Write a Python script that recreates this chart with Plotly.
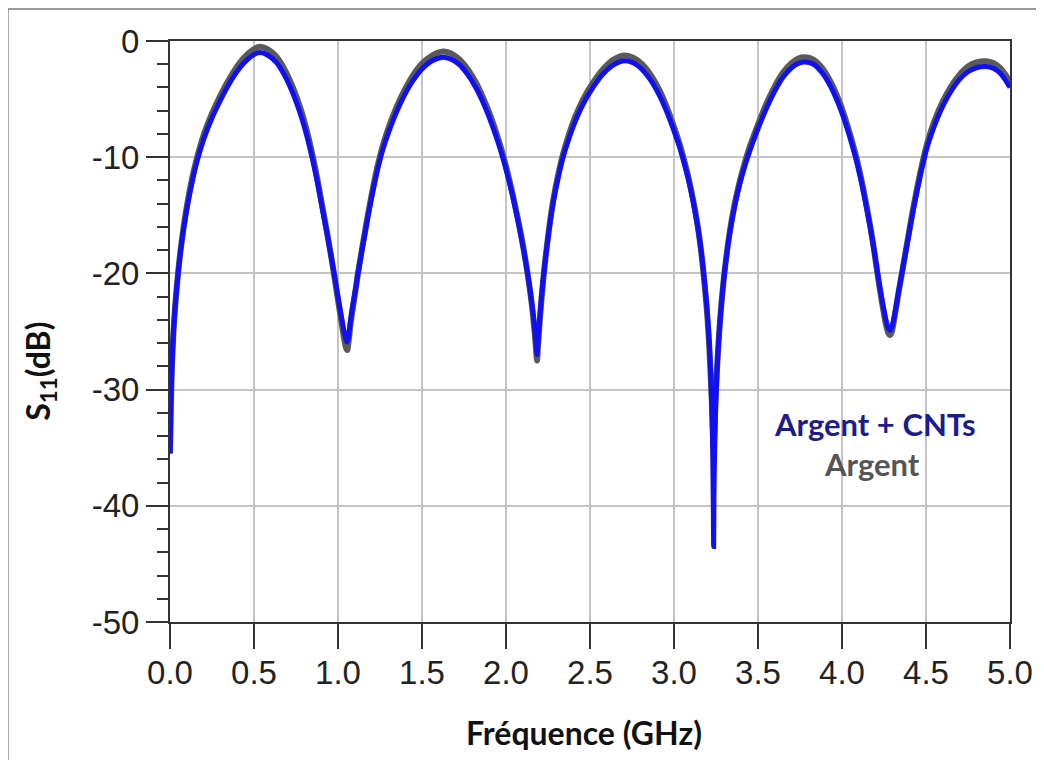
import plotly.graph_objects as go

# Frequency samples (GHz)
freq_ghz = [
    0, 0.005, 0.012, 0.02, 0.03, 0.048, 0.07, 0.095, 0.125, 0.16, 0.20, 0.245, 0.29, 0.34, 0.39, 0.44, 0.49, 0.536,
    0.58, 0.63, 0.68, 0.73, 0.78, 0.815, 0.845, 0.875, 0.905, 0.935, 0.96, 0.98, 1.0, 1.02, 1.035, 1.048, 1.055,
    1.062, 1.075, 1.09, 1.105, 1.12, 1.15, 1.18, 1.21, 1.24, 1.27, 1.30, 1.34, 1.38, 1.44, 1.50, 1.56, 1.625,
    1.67, 1.72, 1.77, 1.82, 1.87, 1.91, 1.95, 1.98, 2.01, 2.04, 2.07, 2.10, 2.125, 2.145, 2.16, 2.172, 2.18, 2.185,
    2.19, 2.198, 2.208, 2.22, 2.235, 2.255, 2.28, 2.31, 2.34, 2.37, 2.41, 2.46, 2.52, 2.58, 2.64, 2.708,
    2.76, 2.81, 2.86, 2.91, 2.96, 3.00, 3.03, 3.06, 3.09, 3.115, 3.14, 3.16, 3.175, 3.19, 3.20, 3.21, 3.218, 3.225, 3.23, 3.234, 3.236,
    3.238, 3.241, 3.245, 3.25, 3.258, 3.268, 3.28, 3.30, 3.33, 3.36, 3.39, 3.42, 3.45, 3.50, 3.55, 3.60, 3.65, 3.70, 3.74, 3.78,
    3.83, 3.88, 3.93, 3.98, 4.03, 4.08, 4.11, 4.14, 4.17, 4.19, 4.21, 4.23, 4.25, 4.265, 4.278, 4.286,
    4.295, 4.31, 4.335, 4.36, 4.39, 4.42, 4.45, 4.48, 4.51, 4.55, 4.60, 4.65, 4.70, 4.75, 4.80, 4.86, 4.90, 4.94, 4.97, 5.0,
]

# S11 (dB), Argent + CNTs (blue)
s11_argent_cnts = [
    -35.5, -31.5, -27.8, -25.2, -23.0, -20.0, -17.3, -14.9, -12.6, -10.4, -8.5, -6.8, -5.4, -4.0, -2.8, -1.9, -1.25, -1.0,
    -1.2, -1.8, -2.9, -4.45, -6.45, -8.2, -10.0, -12.0, -14.3, -16.6, -18.6, -20.3, -22.0, -23.7, -24.9, -25.7, -25.9,
    -25.5, -24.0, -22.6, -21.3, -19.9, -17.4, -15.0, -12.8, -10.8, -9.2, -7.9, -6.4, -5.1, -3.55, -2.4, -1.7, -1.4,
    -1.55, -2.0, -2.85, -4.0, -5.5, -6.95, -8.6, -10.0, -11.6, -13.4, -15.4, -17.6, -19.7, -21.6, -23.3, -25.0, -26.3, -27.0,
    -26.0, -24.4, -22.6, -20.7, -18.7, -16.4, -14.0, -11.8, -10.0, -8.6, -7.0, -5.4, -3.95, -2.8, -2.05, -1.7,
    -1.9, -2.45, -3.35, -4.6, -6.2, -7.75, -9.0, -10.5, -12.2, -13.9, -15.9, -17.9, -19.8, -22.0, -23.8, -26.0, -28.5, -31.5, -35.0, -40.0, -43.5,
    -39.0, -36.0, -33.0, -30.5, -27.8, -25.3, -23.0, -20.0, -16.7, -14.3, -12.4, -10.85, -9.5, -7.55, -5.8, -4.3, -3.1, -2.3, -1.93, -1.8,
    -2.0, -2.7, -3.85, -5.45, -7.5, -10.0, -11.8, -13.9, -16.2, -17.9, -19.8, -21.6, -23.2, -24.2, -24.8, -24.9,
    -24.7, -23.8, -21.7, -19.7, -17.3, -14.9, -12.7, -10.7, -9.0, -7.3, -5.6, -4.3, -3.3, -2.65, -2.3, -2.2, -2.35, -2.75, -3.3, -4.0,
]

# S11 (dB), Argent (grey)
s11_argent = [
    -35.5, -31.5, -27.8, -25.2, -23.0, -20.0, -17.2, -14.7, -12.3, -10.1, -8.1, -6.4, -5.0, -3.6, -2.4, -1.45, -0.8, -0.5,
    -0.7, -1.3, -2.4, -3.95, -5.95, -7.75, -9.6, -11.7, -14.1, -16.5, -18.6, -20.4, -22.3, -24.1, -25.5, -26.4, -26.6,
    -26.0, -24.3, -22.8, -21.4, -19.9, -17.3, -14.8, -12.5, -10.5, -8.85, -7.5, -6.0, -4.7, -3.1, -1.95, -1.25, -0.9,
    -1.05, -1.55, -2.4, -3.55, -5.1, -6.55, -8.25, -9.7, -11.35, -13.2, -15.25, -17.5, -19.7, -21.7, -23.5, -25.3, -26.8, -27.5,
    -26.4, -24.7, -22.8, -20.8, -18.7, -16.3, -13.8, -11.55, -9.7, -8.25, -6.6, -5.0, -3.55, -2.4, -1.6, -1.25,
    -1.45, -2.0, -2.9, -4.15, -5.8, -7.4, -8.7, -10.25, -12.0, -13.75, -15.8, -17.9, -19.9, -22.2, -24.0, -26.3, -28.7, -31.0, -33.0, -34.5, -35.0,
    -34.5, -33.5, -31.8, -30.0, -27.7, -25.3, -23.0, -20.0, -16.6, -14.1, -12.15, -10.55, -9.15, -7.2, -5.4, -3.9, -2.7, -1.9, -1.5, -1.4,
    -1.6, -2.3, -3.45, -5.05, -7.15, -9.7, -11.55, -13.7, -16.1, -17.9, -19.9, -21.8, -23.5, -24.6, -25.2, -25.3,
    -25.1, -24.0, -21.8, -19.7, -17.2, -14.7, -12.45, -10.4, -8.65, -6.9, -5.2, -3.9, -2.9, -2.2, -1.85, -1.75, -1.9, -2.3, -2.85, -3.5,
]

x_ticks = [0.0, 0.5, 1.0, 1.5, 2.0, 2.5, 3.0, 3.5, 4.0, 4.5, 5.0]
y_ticks = [0, -10, -20, -30, -40, -50]

fig = go.Figure()
fig.add_trace(go.Scatter(
    x=freq_ghz, y=s11_argent, mode="lines", name="Argent",
    line=dict(color="#5a5a5a", width=6, shape="spline", smoothing=0.8),
))
fig.add_trace(go.Scatter(
    x=freq_ghz, y=s11_argent_cnts, mode="lines", name="Argent + CNTs",
    line=dict(color="#1010F2", width=5, shape="spline", smoothing=0.8),
))

tick_font = dict(family="Liberation Sans, Arial, sans-serif", size=33, color="#222222")
bold_font = "Lato, Open Sans, sans-serif"

fig.update_layout(
    width=1036, height=752,
    margin=dict(l=162, r=34, t=33, b=138),
    paper_bgcolor="white", plot_bgcolor="white",
    showlegend=False,
    xaxis=dict(
        range=[0, 5], tickvals=x_ticks, ticktext=[f"{v:.1f}" for v in x_ticks],
        showgrid=True, gridcolor="#c4c4c4", gridwidth=2,
        showline=True, linecolor="#333333", linewidth=2, mirror=True,
        ticks="outside", ticklen=25, tickwidth=2, tickcolor="#333333",
        tickfont=tick_font, zeroline=False, ticklabelstandoff=-5,
    ),
    yaxis=dict(
        range=[-50, 0], tickvals=y_ticks, ticktext=[str(v) for v in y_ticks],
        showgrid=True, gridcolor="#c4c4c4", gridwidth=2,
        showline=True, linecolor="#333333", linewidth=2, mirror=True,
        ticks="outside", ticklen=22, tickwidth=2, tickcolor="#333333",
        minor=dict(dtick=2, ticks="outside", ticklen=11, tickwidth=2, tickcolor="#333333", showgrid=False),
        tickfont=tick_font, zeroline=False,
    ),
    annotations=[
        dict(x=0.493, y=-0.191, xref="paper", yref="paper", text="<b>Fréquence (GHz)</b>",
             showarrow=False, xanchor="center", yanchor="middle",
             font=dict(family=bold_font, size=32, color="#111111")),
        dict(x=-0.155, y=0.432, xref="paper", yref="paper", text="<b>S<sub>11</sub>(dB)</b>",
             showarrow=False, textangle=-90, xanchor="center", yanchor="middle",
             font=dict(family=bold_font, size=32, color="#111111")),
        dict(x=4.196, y=-32.96, xref="x", yref="y", text="<b>Argent + CNTs</b>", showarrow=False,
             font=dict(family=bold_font, size=31, color="#1C1C8C")),
        dict(x=4.18, y=-36.4, xref="x", yref="y", text="<b>Argent</b>", showarrow=False,
             font=dict(family=bold_font, size=31, color="#555555")),
    ],
    shapes=[
        dict(type="line", xref="paper", yref="paper", x0=-0.193, x1=1.1, y0=1.055, y1=1.055,
             line=dict(color="#777777", width=1.5)),
        dict(type="line", xref="paper", yref="paper", x0=-0.193, x1=-0.193, y0=1.055, y1=-0.25,
             line=dict(color="#777777", width=1.5)),
    ],
)

fig.write_html("out.html")
